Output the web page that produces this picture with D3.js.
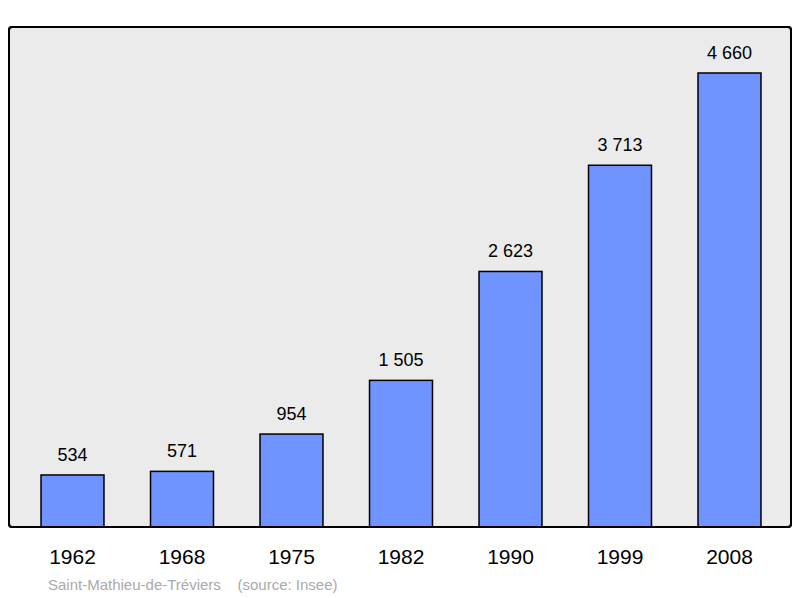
<!DOCTYPE html>
<html><head><meta charset="utf-8">
<script src="https://cdn.jsdelivr.net/npm/d3@7"></script>
<style>body{margin:0;background:#fff}</style></head>
<body><svg id="c" width="800" height="598"></svg>
<script>
const years = ["1962","1968","1975","1982","1990","1999","2008"];
const population = [534,571,954,1505,2623,3713,4660];
const labels = ["534","571","954","1 505","2 623","3 713","4 660"];
const svg = d3.select("#c");
svg.append("rect").attr("x",9).attr("y",27).attr("width",782).attr("height",500)
  .attr("rx",3).attr("fill","#ebebeb").attr("stroke","#000").attr("stroke-width",2);
const x = d3.scaleBand().domain(years).range([17.75,784.25]).paddingInner(0.425).paddingOuter(0.2125);
const y = d3.scaleLinear().domain([0,4660]).range([527,73]);
const g = svg.selectAll("g.b").data(years).enter().append("g");
g.append("rect").attr("x",d=>x(d)).attr("width",x.bandwidth())
  .attr("y",(d,i)=>y(population[i])).attr("height",(d,i)=>527-y(population[i]))
  .attr("fill","#7094ff").attr("stroke","#000").attr("stroke-width",1.5);
g.append("text").attr("x",d=>x(d)+x.bandwidth()/2).attr("y",(d,i)=>y(population[i])-14)
  .attr("text-anchor","middle").attr("font-family","Liberation Sans, Arial, sans-serif")
  .attr("font-size",18).text((d,i)=>labels[i]);
g.append("text").attr("x",d=>x(d)+x.bandwidth()/2).attr("y",564)
  .attr("text-anchor","middle").attr("font-family","Liberation Sans, Arial, sans-serif")
  .attr("font-size",21).text(d=>d);
svg.append("rect").attr("x",9).attr("y",27).attr("width",782).attr("height",500)
  .attr("rx",3).attr("fill","none").attr("stroke","#000").attr("stroke-width",2);
svg.append("text").attr("x",48).attr("y",590).attr("fill","#aaa")
  .attr("font-family","Liberation Sans, Arial, sans-serif").attr("font-size",15)
  .attr("xml:space","preserve").text("Saint-Mathieu-de-Tréviers    (source: Insee)");
</script></body></html>
